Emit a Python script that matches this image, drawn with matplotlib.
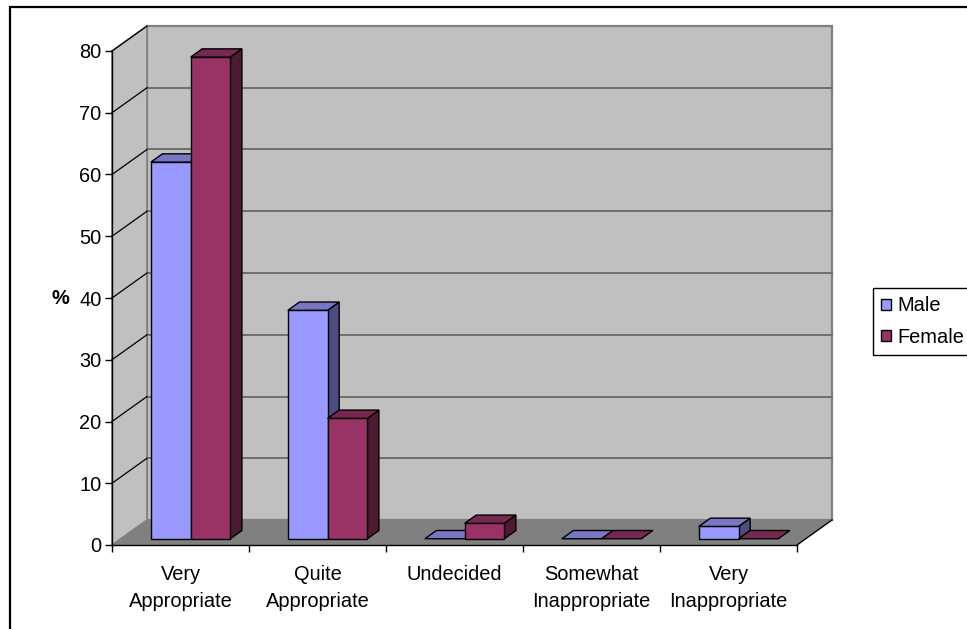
import matplotlib
matplotlib.use("Agg")
import matplotlib.pyplot as plt
from matplotlib.patches import Polygon, Patch, Rectangle
from matplotlib.lines import Line2D

plt.rcParams['font.family'] = ['Liberation Sans', 'DejaVu Sans']

categories = ["Very\nAppropriate", "Quite\nAppropriate", "Undecided",
              "Somewhat\nInappropriate", "Very\nInappropriate"]
male = [61, 37, 0, 0, 2]
female = [78, 19.5, 2.5, 0, 0]
series_names = ["Male", "Female"]
yticks = [0, 10, 20, 30, 40, 50, 60, 70, 80]

W, H = 967, 629
fig = plt.figure(figsize=(W / 100, H / 100), dpi=100)
fig.patch.set_facecolor("white")

# front plane of the 3-D box in pixels
left_px, right_px, top_px, bottom_px = 112, 797, 51, 545
ax = fig.add_axes([left_px / W, (H - bottom_px) / H,
                   (right_px - left_px) / W, (bottom_px - top_px) / H])
ncat = len(categories)
ymax = 80
ax.set_xlim(0, ncat)
ax.set_ylim(0, ymax)
ax.patch.set_visible(False)

# depth vector of the box, expressed in data units
px_per_cat = (right_px - left_px) / ncat
px_per_val = (bottom_px - top_px) / ymax
DX = 35 / px_per_cat
DY = 25 / px_per_val


def dpt(x, y, f):
    return (x + f * DX, y + f * DY)


wall = "#C0C0C0"
wall_edge = "#808080"
floor = "#808080"
grid_c = "#6E6E6E"

# back wall
ax.add_patch(Polygon([dpt(0, 0, 1), dpt(ncat, 0, 1), dpt(ncat, ymax, 1), dpt(0, ymax, 1)],
                     closed=True, facecolor=wall, edgecolor=wall_edge, lw=1.6,
                     clip_on=False, zorder=1))
# side wall
ax.add_patch(Polygon([(0, 0), dpt(0, 0, 1), dpt(0, ymax, 1), (0, ymax)],
                     closed=True, facecolor=wall, edgecolor=wall_edge, lw=1.2,
                     clip_on=False, zorder=1))
# floor
ax.add_patch(Polygon([(0, 0), (ncat, 0), dpt(ncat, 0, 1), dpt(0, 0, 1)],
                     closed=True, facecolor=floor, edgecolor="none",
                     clip_on=False, zorder=1))
ax.add_line(Line2D([ncat, ncat + DX], [0, DY], color="black", lw=1.0,
                   clip_on=False, zorder=2))

# gridlines on the back wall and the side wall
for v in yticks[1:]:
    if v < ymax:
        ax.add_line(Line2D([DX, ncat + DX], [v + DY, v + DY], color=grid_c, lw=1.4,
                           clip_on=False, zorder=2))
    ax.add_line(Line2D([0, DX], [v, v + DY], color="black", lw=0.9,
                       clip_on=False, zorder=2))

# bars
colors = {
    "Male": ("#9999FF", "#7777C4", "#4D4D80"),
    "Female": ("#993366", "#772850", "#4D1A33"),
}
f0, f1 = 0.25, 0.58
offset, bw = 0.22, 0.29
z = 3
for i in range(ncat):
    for s, (name, vals) in enumerate(zip(series_names, [male, female])):
        front_c, top_c, side_c = colors[name]
        v = vals[i]
        x0 = i + offset + s * bw
        x1 = x0 + bw
        ek = dict(edgecolor="black", lw=1.0, clip_on=False, joinstyle="miter")
        if v > 0:
            # right side face
            ax.add_patch(Polygon([dpt(x1, 0, f0), dpt(x1, 0, f1), dpt(x1, v, f1), dpt(x1, v, f0)],
                                 closed=True, facecolor=side_c, zorder=z, **ek))
            # front face
            ax.add_patch(Polygon([dpt(x0, 0, f0), dpt(x1, 0, f0), dpt(x1, v, f0), dpt(x0, v, f0)],
                                 closed=True, facecolor=front_c, zorder=z, **ek))
        # top face
        ax.add_patch(Polygon([dpt(x0, v, f0), dpt(x1, v, f0), dpt(x1, v, f1), dpt(x0, v, f1)],
                             closed=True, facecolor=top_c, zorder=z, **ek))
        z += 1

# axes, ticks and labels
for sp in ["top", "right"]:
    ax.spines[sp].set_visible(False)
ax.spines["left"].set_linewidth(1.0)
ax.spines["bottom"].set_linewidth(1.0)
ax.spines["left"].set_zorder(20)
ax.spines["bottom"].set_zorder(20)

ax.set_yticks(yticks)
ax.set_yticklabels([str(t) for t in yticks])
ax.tick_params(axis="y", direction="out", length=5.0, width=1.0, pad=2.5,
               labelsize=14.4, colors="black")

ax.set_xticks(range(ncat + 1))
ax.set_xticklabels([""] * (ncat + 1))
ax.tick_params(axis="x", which="major", direction="out", length=5.0, width=1.0)
ax.set_xticks([i + 0.5 for i in range(ncat)], minor=True)
ax.set_xticklabels(categories, minor=True, fontsize=14.4, linespacing=1.55)
ax.tick_params(axis="x", which="minor", length=0, pad=14.2)

ax.set_ylabel("%", rotation=0, fontsize=14.4, fontweight="bold",
              va="center", ha="center")
ax.yaxis.set_label_coords(-0.076, 0.5)

# legend
handles = [Patch(facecolor=colors[n][0], edgecolor="black", lw=1.0) for n in series_names]
leg = fig.legend(handles, series_names, loc="upper left",
                 bbox_to_anchor=(873 / W, 1 - 288 / H), fontsize=14.4,
                 frameon=True, fancybox=False, edgecolor="black", framealpha=1,
                 handlelength=0.5, handleheight=0.5, handletextpad=0.3,
                 borderpad=0.42, labelspacing=0.62, borderaxespad=0)
leg.get_frame().set_linewidth(1.0)

# chart area border
fig.add_artist(Rectangle((10 / W, -0.1), 1.2, 1.1 - 7 / H, transform=fig.transFigure,
                         facecolor="none", edgecolor="black", lw=1.6))

fig.savefig("out.png", dpi=100)
